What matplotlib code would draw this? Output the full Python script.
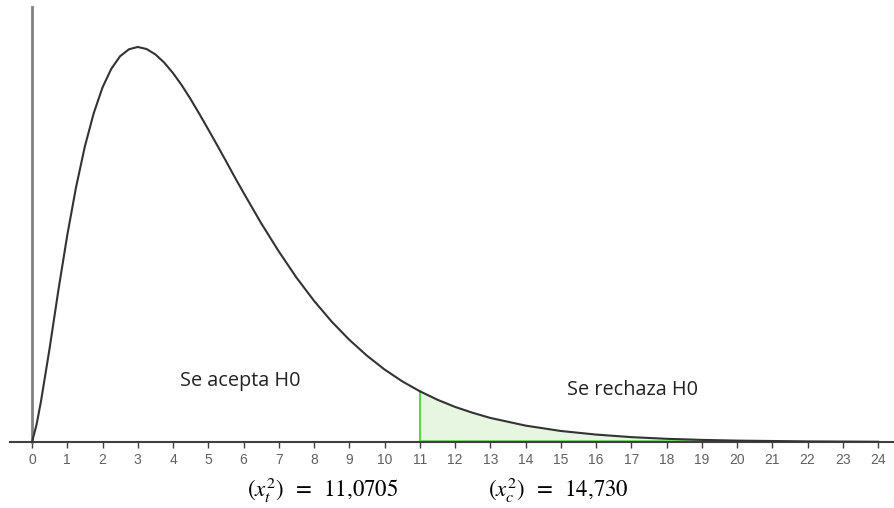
import matplotlib
matplotlib.use("Agg")
import matplotlib.pyplot as plt

# -------------------------------------------------------------------------
# DATA (densidad chi-cuadrado, gl = 5)
# -------------------------------------------------------------------------
X_VALS = [0, 0.125, 0.25, 0.5, 0.75, 1, 1.25, 1.5, 1.75, 2, 2.25, 2.5, 2.75,
          3, 3.25, 3.5, 3.75, 4, 4.25, 4.5, 4.75, 5, 5.25, 5.5, 5.75, 6, 6.5,
          7, 7.5, 8, 8.5, 9, 9.5, 10, 10.5, 11, 11.5, 12, 12.5, 13, 14, 15,
          16, 17, 18, 19, 20, 22, 24]
DENSITY = [0, 0.0065, 0.0155, 0.0366, 0.0594, 0.0807, 0.0995, 0.1154, 0.1283,
           0.1384, 0.1457, 0.1506, 0.1533, 0.1542, 0.1534, 0.1513, 0.1481,
           0.1440, 0.1392, 0.1338, 0.1280, 0.1220, 0.1159, 0.1097, 0.1034,
           0.0973, 0.0854, 0.0744, 0.0642, 0.0551, 0.0470, 0.0399, 0.0337,
           0.0283, 0.0237, 0.0198, 0.0165, 0.0137, 0.0114, 0.0094, 0.0064,
           0.0043, 0.0029, 0.0019, 0.00125, 0.00082, 0.00054, 0.00023, 0.0001]
TICKS = list(range(0, 25))
CRITICAL = 11
LABEL_ACCEPT = "Se acepta H0"
LABEL_REJECT = "Se rechaza H0"
LABEL_T = r"$(x_t^2)\;\;=\;\;11{,}0705$"
LABEL_C = r"$(x_c^2)\;\;=\;\;14{,}730$"

plt.rcParams["mathtext.fontset"] = "stix"

fig = plt.figure(figsize=(8.94, 5.08), dpi=100)
ax = fig.add_axes([10 / 894, 66 / 508, 884 / 894, 435 / 508])

ax.plot(X_VALS, DENSITY, color="#333333", lw=1.5, zorder=3,
        solid_joinstyle="round")

# zona de rechazo
xs = [x for x in X_VALS if x >= CRITICAL]
ys = [y for x, y in zip(X_VALS, DENSITY) if x >= CRITICAL]
ax.fill_between(xs, ys, 0, color="#e6f6e1", zorder=1)
ax.plot([CRITICAL, CRITICAL], [0, ys[0]], color="#5fd34a", lw=1.5, zorder=2)
ax.plot([CRITICAL, 19.5], [0.0004, 0.0004], color="#5fd34a", lw=1.8, zorder=2)

ax.set_xlim(-0.624, 24.45)
ax.set_ylim(0, 0.1698)

for s in ["top", "right"]:
    ax.spines[s].set_visible(False)
ax.spines["left"].set_position(("data", 0))
ax.spines["left"].set_color("#808080")
ax.spines["left"].set_linewidth(2)
ax.spines["bottom"].set_color("#404040")
ax.spines["bottom"].set_linewidth(1.5)
ax.set_yticks([])
ax.set_xticks(TICKS)
ax.tick_params(axis="x", direction="out", length=4, width=1, color="#404040",
               labelsize=10, labelcolor="#606060", pad=4)
for lab in ax.get_xticklabels():
    lab.set_family("Liberation Sans")

ax.text(4.2, 0.0240, LABEL_ACCEPT, fontsize=14.3, color="#222222",
        family="Open Sans", va="center", ha="left")
ax.text(15.18, 0.0203, LABEL_REJECT, fontsize=14.3, color="#222222",
        family="Open Sans", va="center", ha="left")

fig.text(247 / 894, 1 - 490 / 508, LABEL_T, fontsize=16.5, va="center",
         ha="left")
fig.text(488 / 894, 1 - 490 / 508, LABEL_C, fontsize=16.5, va="center",
         ha="left")

fig.savefig("out.png", dpi=100)
